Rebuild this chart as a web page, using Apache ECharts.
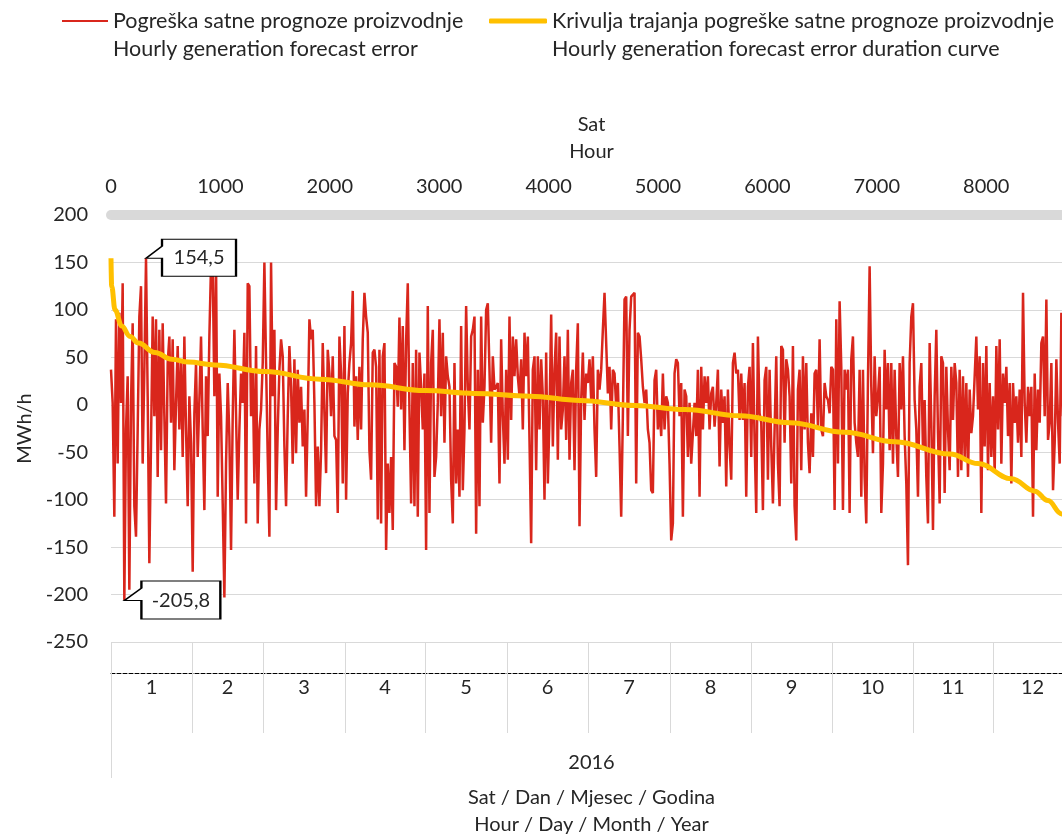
<!DOCTYPE html>
<html><head><meta charset="utf-8">
<script src="https://cdn.jsdelivr.net/npm/echarts@6/dist/echarts.min.js"></script>
<style>html,body{margin:0;padding:0;background:#fff}#c{width:1062px;height:837px}</style>
</head><body><div id="c"></div>
<script>
// ---- data ----
const HOURS_TOTAL = 8784;
const STEP = 15.24; // hours between plotted red samples
const redName = 'Pogreška satne prognoze proizvodnje\nHourly generation forecast error';
const durName = 'Krivulja trajanja pogreške satne prognoze proizvodnje\nHourly generation forecast error duration curve';
const redValues = [
37,2,-118,90,-62,97,2,128,-205.8,-26,30,-195,2,86,-107,-139,-26,93,125,-62,37,154.5,9,-167,-40,93,-12,90,-76,79,-48,86,-12,-104,44,72,-19,69,-69,2,62,-26,48,-55,72,-26,-107,9,-40,-176,-9,44,-55,5,72,-26,-111,30,-33,72,148,
145,9,150,-97,33,-12,-104,-203,-62,23,-33,-153,-12,79,81,-100,-26,33,2,76,-125,128,125,-12,37,-83,62,-125,-26,-5,44,150,44,-55,-139,150,9,79,-111,-26,37,69,51,-44,-107,-12,62,19,-62,48,-51,37,-19,19,-44,-5,-97,-12,90,69,79,2,-107,
-44,-107,-48,65,-9,-72,58,33,-12,51,-33,-37,-114,72,33,-83,83,-100,12,44,65,120,-23,30,-37,40,-26,69,118,93,76,-48,-79,55,58,40,-121,58,-125,51,65,-153,-62,-114,-55,-132,44,40,-2,92,-5,83,-48,67,128,-5,-104,44,-107,58,-118,55,19,
-26,33,-153,104,-114,44,79,-76,-55,2,90,-12,76,-40,51,30,19,-79,-125,44,-83,-26,-97,83,-90,-26,104,19,-26,72,79,93,-136,37,-107,93,-19,19,100,107,37,-40,51,16,19,23,-83,69,-12,-62,37,-58,93,-16,72,30,69,30,9,48,-26,76,30,
72,-37,-146,37,51,-69,51,-26,48,9,-100,55,-83,-12,95,-44,37,76,-58,72,-26,-5,51,-37,79,-58,23,37,-69,37,86,-128,5,55,-16,33,23,48,5,51,-26,-76,37,16,37,79,118,120,12,40,-26,37,33,-2,23,-44,-118,-12,111,114,-33,79,114,
114,118,-83,76,72,48,19,2,16,-26,-40,-90,-93,26,37,-26,-2,-33,33,-26,9,2,-62,-143,-125,33,48,44,-12,23,-118,16,9,-55,2,-62,-62,2,-33,37,-97,40,-26,30,2,30,-26,12,19,-23,2,37,-65,16,-19,9,-86,16,-44,-79,44,55,33,
37,-16,33,-16,23,-97,19,40,-55,65,-37,-114,72,-9,-19,-111,26,40,-79,37,-44,-104,-26,51,-62,-107,62,58,-40,48,37,9,-83,62,-107,-143,16,37,-69,51,-26,44,-40,-72,-9,-55,33,37,-23,69,-26,-33,23,9,5,-9,40,37,-111,90,-62,109,40,
-111,37,16,37,-114,48,72,-19,-40,-55,37,-97,37,-76,-125,26,146,19,-51,51,-12,9,40,-114,-62,58,-5,44,-48,44,-62,37,-33,-76,44,-5,51,-33,-83,-169,44,93,107,5,-26,-97,19,44,-48,5,-76,-125,65,-19,-132,9,79,-30,-104,51,44,-93,40,
-26,-69,40,-16,44,23,-76,37,-69,30,-55,23,-76,16,-30,-12,30,72,-5,51,-114,44,-44,62,-69,23,-55,9,-72,62,-26,69,-62,33,2,40,-33,23,-83,23,-19,9,-40,16,-55,118,2,-40,19,-12,19,-118,33,-48,16,-19,65,72,-12,111,-37,-19,44,-90,-40,48,-19,-62,97,-12
];
const durationHours  = [0,6,37,98,174,250,402,555,707,950,1408,1910,2367,2870,3327,3830,4287,4789,5246,5749,6206,6709,7166,7668,7925,8232,8445,8564,8689,8784];
const durationValues = [154.5,125,100,83,72,65,55,48,45,42,35,27,21,15,12,9,4.6,-0.7,-5,-11.6,-19,-29,-39,-52,-62,-78,-91,-101,-115,-130];
const topTicks = [0,1000,2000,3000,4000,5000,6000,7000,8000];
const monthStarts = [0,740,1389,2139,2870,3620,4360,5110,5850,6590,7331,8062];
const monthLabels = ['1','2','3','4','5','6','7','8','9','10','11','12'];
const yearLabel = '2016';
const topAxisName = 'Sat\nHour';
const bottomAxisName = 'Sat / Dan / Mjesec / Godina\nHour / Day / Month / Year';
const yAxisName = 'MWh/h';

// ---- build ----
const FONT = 'Lato';
const TXT = '#262626';
const GRID = '#d9d9d9';
const RED = '#d9261c';
const YEL = '#ffc000';
const redData = redValues.map((v, i) => [i * STEP, v]);
const durData = durationHours.map((h, i) => [h, durationValues[i]]);
let maxI = 0, minI = 0;
redValues.forEach((v, i) => { if (v > redValues[maxI]) maxI = i; if (v < redValues[minI]) minI = i; });
const fmt = v => v.toFixed(1).replace('.', ',');
const monthEnds = monthStarts.slice(1).concat([HOURS_TOTAL]);
const monthMid = monthStarts.map((s, i) => (s + monthEnds[i]) / 2);
const CALLOUT = 'path://M16,0L90,0L90,37L16,37L16,19L0,19L16,7Z';
const baseText = { fontFamily: FONT, fontSize: 20, color: TXT };
const legendText = { fontFamily: FONT, fontSize: 21.5, color: TXT, lineHeight: 28 };

const option = {
  animation: false,
  backgroundColor: '#fff',
  grid: { left: 111, right: -10, top: 215, bottom: 195, containLabel: false, outerBoundsMode: 'none' },
  legend: [
    { data: [redName], left: 62, top: -21, padding: 0, itemWidth: 46, itemHeight: 2,
      icon: 'rect', formatter: n => '\n' + n, textStyle: legendText },
    { data: [durName], left: 489, top: -21, padding: 0, itemWidth: 58, itemHeight: 5,
      icon: 'roundRect', formatter: n => '\n' + n, textStyle: legendText }
  ],
  xAxis: [
    { type: 'value', position: 'top', min: 0, max: HOURS_TOTAL,
      name: topAxisName, nameLocation: 'middle', nameGap: 50,
      nameTextStyle: Object.assign({ lineHeight: 27 }, baseText),
      axisLine: { show: true, onZero: false, lineStyle: { color: GRID, width: 10 } },
      axisTick: { show: false }, splitLine: { show: false },
      axisLabel: Object.assign({ customValues: topTicks, margin: 18, formatter: v => String(v) }, baseText) },
    { type: 'value', position: 'bottom', min: 0, max: HOURS_TOTAL,
      axisLine: { show: false, onZero: false },
      axisTick: { show: true, customValues: monthStarts.slice(1), length: 91, lineStyle: { color: GRID, width: 1 } },
      splitLine: { show: false },
      axisLabel: Object.assign({ customValues: monthMid, margin: 36,
        formatter: v => { let k = 0, d = Infinity; monthMid.forEach((m, i) => { if (Math.abs(m - v) < d) { d = Math.abs(m - v); k = i; } }); return monthLabels[k]; } }, baseText) },
    { type: 'value', position: 'bottom', min: 0, max: HOURS_TOTAL,
      name: bottomAxisName, nameLocation: 'middle', nameGap: 142,
      nameTextStyle: Object.assign({ lineHeight: 27 }, baseText),
      axisLine: { show: false, onZero: false },
      axisTick: { show: true, customValues: [0], length: 136, lineStyle: { color: GRID, width: 1 } },
      splitLine: { show: false },
      axisLabel: Object.assign({ customValues: [HOURS_TOTAL / 2], margin: 111, formatter: () => yearLabel }, baseText) },
    { type: 'value', position: 'bottom', min: 0, max: HOURS_TOTAL, offset: 31,
      axisLine: { show: true, onZero: false, lineStyle: { color: '#000', width: 1, type: [4, 2] } },
      axisTick: { show: false }, axisLabel: { show: false }, splitLine: { show: false } }
  ],
  yAxis: [
    { type: 'value', min: -250, max: 200, interval: 50,
      name: yAxisName, nameLocation: 'middle', nameGap: 76, nameRotate: 90,
      nameTextStyle: baseText,
      axisLine: { show: false }, axisTick: { show: false },
      splitLine: { show: true, lineStyle: { color: GRID, width: 1 } },
      axisLabel: Object.assign({ margin: 23 }, baseText) }
  ],
  series: [
    { name: redName, type: 'line', xAxisIndex: 0, yAxisIndex: 0, data: redData,
      symbol: 'none', showSymbol: false, z: 2,
      lineStyle: { color: RED, width: 2.5 }, itemStyle: { color: RED },
      markPoint: {
        symbol: CALLOUT, symbolKeepAspect: false,
        itemStyle: { color: '#fff', borderColor: '#000', borderWidth: 1.5 },
        label: Object.assign({ show: true, position: 'inside', formatter: '{c}' }, baseText),
        data: [
          { coord: [maxI * STEP, redValues[maxI]], value: fmt(redValues[maxI]),
            symbolSize: [90, 37], symbolOffset: [45, -0.5], label: { offset: [8, 0] } },
          { coord: [minI * STEP, redValues[minI]], value: fmt(redValues[minI]),
            symbolSize: [96, 38], symbolOffset: [48, 0], label: { offset: [8.5, 0] } }
        ]
      } },
    { name: durName, type: 'line', xAxisIndex: 0, yAxisIndex: 0, data: durData,
      symbol: 'none', showSymbol: false, z: 3, smooth: 0.4, smoothMonotone: 'x',
      lineStyle: { color: YEL, width: 5 }, itemStyle: { color: YEL } }
  ]
};
const chart = echarts.init(document.getElementById('c'), null, { renderer: 'canvas' });
chart.setOption(option);
</script>
</body></html>
